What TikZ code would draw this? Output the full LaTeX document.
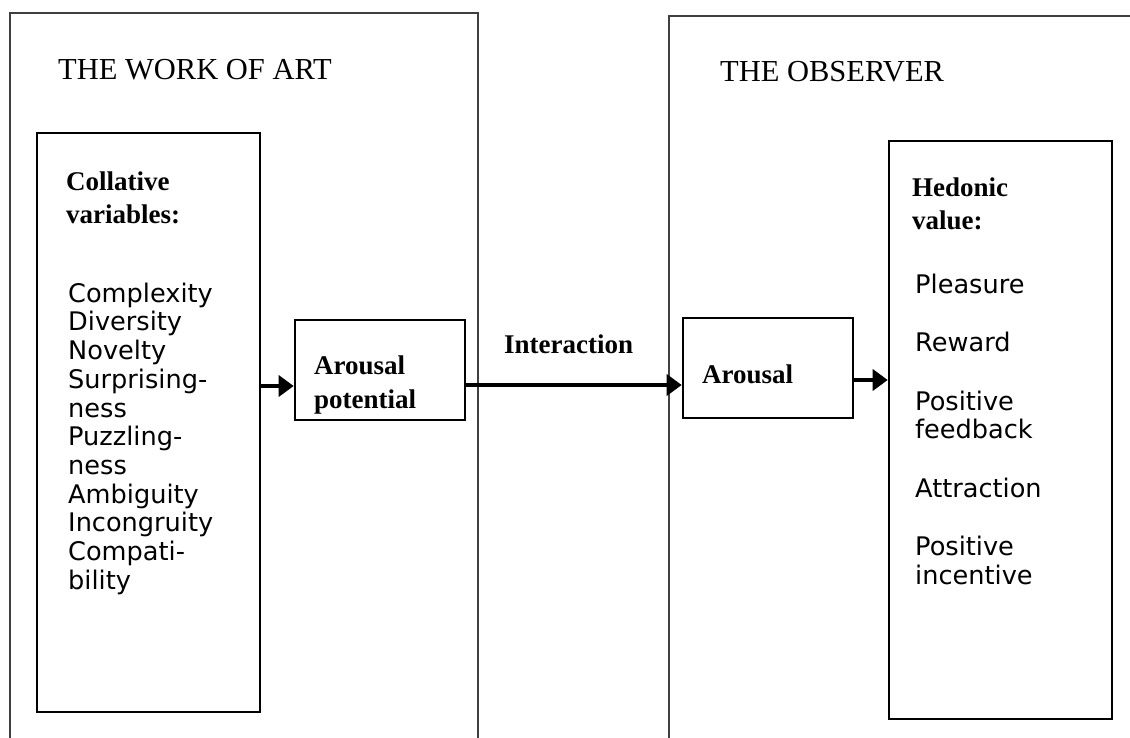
\documentclass[tikz,border=0pt]{standalone}
\usepackage{fontspec}
\setmainfont{Liberation Serif}
\newfontfamily\listfont{DejaVu Sans}
\usepackage{tikz}
\usetikzlibrary{arrows.meta}
\tikzset{
frame/.style = {draw=black!75, line width=1.2pt},
box/.style = {rectangle, draw=black, line width=2.6pt, inner sep=0pt, minimum width=#1},
box/.default = 170pt, % width of the small boxes
head/.style = {font=\fontsize{30.5}{36}\selectfont, anchor=base west, inner sep=0pt},
lbl/.style = {font=\bfseries\fontsize{27}{32.5}\selectfont, anchor=north west, align=left, inner sep=0pt},
items/.style = {font=\listfont\fontsize{25.6}{28.7}\selectfont, anchor=north west, align=left, inner sep=0pt},
flow/.style = {-{Triangle[length=15pt,width=21pt]}, line width=3.5pt},
}

\begin{document}
\begin{tikzpicture}[x=1pt,y=-1pt]
    \useasboundingbox (0,0) rectangle (1130,738);

    % the two frames, open at the bottom
    \draw[frame] (10,738) -- (10,13) -- (478,13) -- (478,738);
    \draw[frame] (669,738) -- (669,16) -- (1130,16);

    \node[head] (artTitle) at (58,80) {THE WORK OF ART};
    \node[head] (obsTitle) at (720,82) {THE OBSERVER};

    \node[box=223pt, minimum height=579pt] (collBox) at (148.5,422.5) {};
    \node[box, minimum height=100pt] (potBox) at (380,370) {};
    \node[box, minimum height=100pt] (aroBox) at (768,368) {};
    \node[box=223pt, minimum height=578pt] (hedBox) at (1000.5,430) {};

    \node[lbl] (collLbl) at (66,168) {\strut Collative\\variables:};
    \node[items] (collList) at (68,282) {\strut Complexity\\Diversity\\Novelty\\Surprising-\\ness\\Puzzling-\\ness\\Ambiguity\\Incongruity\\Compati-\\bility};

    \node[lbl, font=\bfseries\fontsize{27}{34}\selectfont] (potLbl) at (314,350) {\strut Arousal\\potential};
    \node[lbl, anchor=base west] (interLbl) at (504,353) {Interaction};
    \node[lbl, anchor=base west] (aroLbl) at (702,383) {Arousal};

    \node[lbl] (hedLbl) at (912,174) {\strut Hedonic\\value:};
    \node[items, font=\listfont\fontsize{25.6}{28.5}\selectfont] (hedList) at (915,273) {\strut Pleasure\\[30pt]Reward\\[30pt]Positive\\feedback\\[30pt]Attraction\\[30pt]Positive\\incentive};

    \draw[flow] ([yshift=-16pt]potBox.west -| collBox.east) -- ([yshift=-16pt]potBox.west);
    \draw[flow] ([yshift=-15pt]potBox.east) -- ([yshift=-15pt]potBox.east -| aroBox.west);
    \draw[flow] ([yshift=-12pt]aroBox.east) -- ([yshift=-12pt]aroBox.east -| hedBox.west);
\end{tikzpicture}
\end{document}
